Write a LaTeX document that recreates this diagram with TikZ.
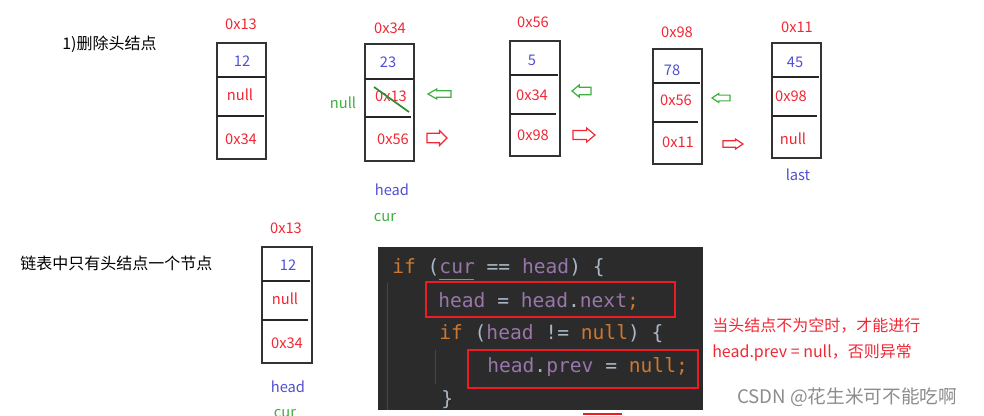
\documentclass[tikz,border=0pt]{standalone}
\usepackage{fontspec}
\setmainfont{Noto Sans CJK SC}
\setmonofont{DejaVu Sans Mono}
\definecolor{addrred}{RGB}{240,40,52}
\definecolor{valblue}{RGB}{80,80,210}
\definecolor{nullgreen}{RGB}{60,175,60}
\definecolor{codebg}{RGB}{43,43,43}
\definecolor{kw}{RGB}{204,120,50}
\definecolor{pu}{RGB}{152,118,170}
\definecolor{tx}{RGB}{169,183,198}
\definecolor{guide}{RGB}{70,70,70}
\definecolor{boxred}{RGB}{237,28,36}

\tikzset{
  cell/.style = {draw=black!80, line width=1.5pt},
  sep/.style = {draw=black!85, line width=0.9pt},
  addr/.style = {text=addrred, font=\fontsize{11}{13}\selectfont, inner sep=0pt},
  val/.style = {text=valblue, font=\fontsize{11}{13}\selectfont, inner sep=0pt},
  ptr/.style = {text=addrred, font=\fontsize{11}{13}\selectfont, inner sep=0pt},
  tag/.style = {font=\fontsize{11}{13}\selectfont, inner sep=0pt},
  cn/.style = {font=\fontsize{12}{14}\selectfont, inner sep=0pt, anchor=west},
  code/.style = {font=\ttfamily\fontsize{14.7}{16}\selectfont, inner sep=0pt, anchor=west},
  blkarr/.pic = {\draw[line width=0.9pt, line join=miter]
      (0,-0.32) -- (0.62,-0.32) -- (0.62,-0.5) -- (1,0) -- (0.62,0.5)
      -- (0.62,0.32) -- (0,0.32) -- cycle;}
}

\begin{document}
\begin{tikzpicture}[x=0.75pt, y=-0.75pt]
    \useasboundingbox (0,0) rectangle (984,415);
    \clip (0,0) rectangle (984,415);
    % title
    \node[cn] (t1) at (62,44) {1)删除头结点};
    % node 0x13
    \draw[cell] (217,43) rectangle (266,159);
    \draw[sep] (217,77) -- (265,77);
    \draw[sep] (217,116) -- (264,116);
    \node[addr] (a13) at (241,24) {0x13};
    \node[val] (v13) at (242,61) {12};
    \node[ptr] (p13) at (240,95) {null};
    \node[ptr] (n13) at (241,139) {0x34};
    % node 0x34
    \draw[cell] (365,44) rectangle (414,161);
    \draw[sep] (365,79) -- (413,79);
    \draw[sep] (365,117) -- (411,117);
    \node[addr] (a34) at (390,28) {0x34};
    \node[val] (v34) at (388,62) {23};
    \node[ptr] (p34) at (391,96) {0x13};
    \node[ptr] (n34) at (393,139) {0x56};
    \draw[nullgreen!80!black, line width=1.3pt] (374,87) -- (409,112);
    \node[tag, text=nullgreen] (nl) at (343,103) {null};
    \node[tag, text=valblue] (hd) at (392,190) {head};
    \node[tag, text=nullgreen] (cr) at (385,218) {cur};
    \pic[nullgreen, xscale=-23, yscale=10] at (451,94) {blkarr};
    \pic[addrred, xscale=20, yscale=15] at (427,138) {blkarr};
    % node 0x56
    \draw[cell] (510,41) rectangle (560,156);
    \draw[sep] (510,75) -- (558,75);
    \draw[sep] (510,114) -- (556,114);
    \node[addr] (a56) at (533,22) {0x56};
    \node[val] (v56) at (532,60) {5};
    \node[ptr] (p56) at (532,95) {0x34};
    \node[ptr] (n56) at (533,135) {0x98};
    \pic[nullgreen, xscale=-19, yscale=12] at (591,91) {blkarr};
    \pic[addrred, xscale=22, yscale=14] at (573,135) {blkarr};
    % node 0x98
    \draw[cell] (653,49) rectangle (702,164);
    \draw[sep] (653,83) -- (700,83);
    \draw[sep] (653,122) -- (698,122);
    \node[addr] (a98) at (677,32) {0x98};
    \node[val] (v98) at (672,70) {78};
    \node[ptr] (p98) at (676,100) {0x56};
    \node[ptr] (n98) at (678,142) {0x11};
    \pic[nullgreen, xscale=-18, yscale=9] at (730,98) {blkarr};
    \pic[addrred, xscale=20, yscale=10] at (723,144) {blkarr};
    % node 0x11
    \draw[cell] (772,43) rectangle (821,158);
    \draw[sep] (772,77) -- (819,77);
    \draw[sep] (772,116) -- (817,116);
    \node[addr] (a11) at (797,27) {0x11};
    \node[val] (v11) at (795,62) {45};
    \node[ptr] (p11) at (791,96) {0x98};
    \node[ptr] (n11) at (793,139) {null};
    \node[tag, text=valblue] (ls) at (798,175) {last};

    % only one node
    \node[cn] (t2) at (20,263) {链表中只有头结点一个节点};
    \draw[cell] (262,247) rectangle (312,363);
    \draw[sep] (262,281) -- (310,281);
    \draw[sep] (262,320) -- (308,320);
    \node[addr] (b13) at (286,228) {0x13};
    \node[val] (w13) at (288,265) {12};
    \node[ptr] (q13) at (285,299) {null};
    \node[ptr] (m13) at (287,343) {0x34};
    \node[tag, text=valblue] (hd2) at (288,387) {head};
    \node[tag, text=nullgreen] (cr2) at (285,413) {cur};

    % code
    \fill[codebg] (378,247) rectangle (703,410);
    \draw[guide, line width=0.6pt] (387,283) -- (387,410);
    \draw[guide, line width=0.6pt] (435,350) -- (435,384);
    \node[code] (c1) at (392,268) {\textcolor{kw}{if} \textcolor{tx}{(}\textcolor{pu}{cur} \textcolor{tx}{==} \textcolor{pu}{head}\textcolor{tx}{) \{}};
    \draw[pu!80!tx, line width=0.6pt] (439,279) -- (474,279);
    \node[code] (c2) at (438,301) {\textcolor{pu}{head} \textcolor{tx}{=} \textcolor{pu}{head}\textcolor{tx}{.}\textcolor{pu}{next}\textcolor{kw}{;}};
    \node[code] (c3) at (439,334) {\textcolor{kw}{if} \textcolor{tx}{(}\textcolor{pu}{head} \textcolor{tx}{!=} \textcolor{kw}{null}\textcolor{tx}{) \{}};
    \node[code] (c4) at (487,367) {\textcolor{pu}{head}\textcolor{tx}{.}\textcolor{pu}{prev} \textcolor{tx}{=} \textcolor{kw}{null}\textcolor{kw}{;}};
    \node[code] (c5) at (441,400) {\textcolor{tx}{\}}};
    \draw[boxred, line width=2.2pt] (426,282) rectangle (675,317);
    \draw[boxred, line width=2.2pt] (468,350) rectangle (698,388);
    \draw[boxred, line width=1.6pt] (583,414) -- (622,414);

    % notes
    \node[cn, text=addrred] (n1) at (712,326) {当头结点不为空时，才能进行};
    \node[cn, text=addrred] (n2) at (712,353) {head.prev = null，否则异常};
    \node[cn, text=black!45, font=\fontsize{14}{16}\selectfont] (wm) at (737,397) {CSDN @花生米可不能吃啊};
\end{tikzpicture}
\end{document}
